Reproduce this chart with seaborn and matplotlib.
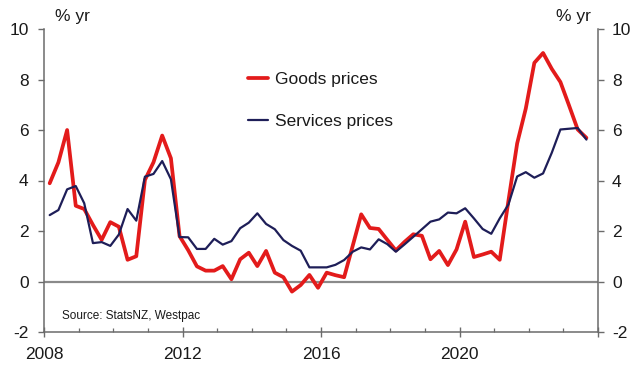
import numpy as np
import pandas as pd
import matplotlib
matplotlib.use("Agg")
import matplotlib.pyplot as plt
from matplotlib.lines import Line2D
import seaborn as sns

# ---------------- data ----------------
quarters = pd.date_range("2008-03-01", periods=63, freq="QS-MAR")

goods = [3.89, 4.72, 6.00, 3.00, 2.87, 2.24, 1.65, 2.35, 2.17, 0.86,
         1.00, 4.02, 4.72, 5.78, 4.88, 1.80, 1.24, 0.60, 0.43, 0.43,
         0.61, 0.09, 0.88, 1.14, 0.61, 1.21, 0.35, 0.17, -0.40, -0.14,
         0.26, -0.25, 0.35, 0.25, 0.17, 1.42, 2.66, 2.12, 2.08, 1.65,
         1.23, 1.57, 1.87, 1.81, 0.88, 1.21, 0.65, 1.27, 2.37, 0.97,
         1.07, 1.18, 0.86, 3.20, 5.47, 6.85, 8.66, 9.05, 8.42, 7.90,
         6.98, 6.02, 5.69]

services = [2.63, 2.83, 3.65, 3.78, 3.10, 1.52, 1.56, 1.41, 1.86, 2.87,
            2.41, 4.15, 4.26, 4.77, 4.05, 1.76, 1.75, 1.29, 1.29, 1.69,
            1.46, 1.60, 2.11, 2.33, 2.70, 2.28, 2.07, 1.64, 1.41, 1.22,
            0.56, 0.56, 0.56, 0.66, 0.85, 1.18, 1.35, 1.27, 1.67, 1.48,
            1.18, 1.47, 1.77, 2.07, 2.37, 2.46, 2.73, 2.70, 2.90, 2.50,
            2.08, 1.89, 2.50, 3.05, 4.16, 4.33, 4.11, 4.28, 5.10, 6.02,
            6.05, 6.08, 5.62]

series_names = ["Goods prices", "Services prices"]
x_tick_values = [2008, 2012, 2016, 2020, 2024]
x_tick_labels = ["2008", "2012", "2016", "2020", ""]
y_tick_values = [-2, 0, 2, 4, 6, 8, 10]
y_tick_labels = ["-2", "0", "2", "4", "6", "8", "10"]
unit_label = "% yr"
source_text = "Source: StatsNZ, Westpac"

# ---------------- styling ----------------
RED = "#E31B1B"
NAVY = "#1E1E58"
SPINE = "#6b6b6b"
TXT = "#1a1a1a"

sns.set_theme(style="ticks")
plt.rcParams["font.family"] = ["Liberation Sans", "DejaVu Sans"]

dec_year = np.asarray(quarters.year + (quarters.dayofyear - 1) / 365.25, dtype=float)
df = pd.DataFrame({
    "date": np.concatenate([dec_year, dec_year]),
    "value": goods + services,
    "series": [series_names[0]] * len(goods) + [series_names[1]] * len(services),
})

W, H = 635, 367
fig = plt.figure(figsize=(W / 100, H / 100), dpi=100)
L, R, T, B = 44, 598, 29, 332
ax = fig.add_axes([L / W, 1 - B / H, (R - L) / W, (B - T) / H])

ax.axhline(0, color="#8a8a8a", lw=1.6, zorder=1)

sns.lineplot(data=df[df.series == series_names[0]], x="date", y="value",
             color=RED, lw=2.7, ax=ax, legend=False, zorder=3)
sns.lineplot(data=df[df.series == series_names[1]], x="date", y="value",
             color=NAVY, lw=1.6, ax=ax, legend=False, zorder=4)

ax.set_xlim(2008, 2024)
ax.set_ylim(-2, 10)
ax.set_xlabel("")
ax.set_ylabel("")

ax.set_xticks(x_tick_values)
ax.set_xticklabels(x_tick_labels)
ax.set_xticks(list(range(2008, 2025)), minor=True)
ax.set_yticks(y_tick_values)
ax.set_yticklabels(y_tick_labels)

for s in ["top", "right"]:
    ax.spines[s].set_visible(False)
for s in ["left", "bottom"]:
    ax.spines[s].set_color(SPINE)
    ax.spines[s].set_linewidth(1.1)

ax.tick_params(axis="x", which="major", direction="inout", length=7,
               width=1.0, color=SPINE, labelsize=12.5, labelcolor=TXT, pad=7)
ax.tick_params(axis="x", which="minor", direction="in", length=3,
               width=0.9, color=SPINE)
ax.tick_params(axis="y", which="major", direction="out", length=4,
               width=1.0, color=SPINE, labelsize=12.5, labelcolor=TXT, pad=7)

ax2 = ax.twinx()
ax2.set_ylim(-2, 10)
ax2.set_yticks(y_tick_values)
ax2.set_yticklabels(y_tick_labels)
for s in ["top", "left", "bottom"]:
    ax2.spines[s].set_visible(False)
ax2.spines["right"].set_color(SPINE)
ax2.spines["right"].set_linewidth(1.1)
ax2.tick_params(axis="y", which="major", direction="out", length=4,
                width=1.0, color=SPINE, labelsize=12.5, labelcolor=TXT, pad=6)
ax2.grid(False)

# unit labels
fig.text(72 / W, 1 - 17 / H, unit_label, ha="center", va="center",
         fontsize=12.5, color=TXT)
fig.text(573 / W, 1 - 17 / H, unit_label, ha="center", va="center",
         fontsize=12.5, color=TXT)

# source
fig.text(62 / W, 1 - 316 / H, source_text, ha="left", va="center",
         fontsize=8.5, color=TXT)

# legend
handles = [Line2D([], [], color=RED, lw=2.7), Line2D([], [], color=NAVY, lw=1.6)]
leg = ax.legend(handles, series_names, loc="upper left",
                bbox_to_anchor=(248 / W, 1 - 72 / H), bbox_transform=fig.transFigure,
                frameon=False, fontsize=12.5, handlelength=1.15,
                handletextpad=0.4, labelspacing=1.55, borderpad=0,
                borderaxespad=0)
for t in leg.get_texts():
    t.set_color(TXT)

fig.savefig("out.png", dpi=100)
